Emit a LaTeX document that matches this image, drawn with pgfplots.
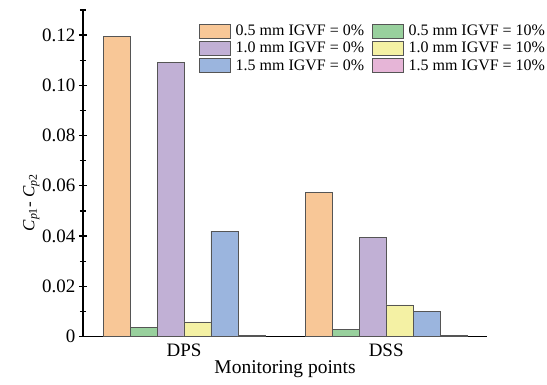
\documentclass[border=0pt]{standalone}
\usepackage{fontspec}
\setmainfont{Liberation Serif}
\usepackage{pgfplots}
\pgfplotsset{compat=1.18}
\definecolor{cOr}{HTML}{F8C797}
\definecolor{cGr}{HTML}{98D09D}
\definecolor{cPu}{HTML}{C1B0D5}
\definecolor{cYe}{HTML}{F4F1A4}
\definecolor{cBl}{HTML}{9BB5DE}
\definecolor{cPi}{HTML}{E6B5D7}
\definecolor{edge}{HTML}{555555}
\begin{document}
\begin{tikzpicture}
\begin{axis}[
  name=ax,
  scale only axis,
  width=405pt, height=327pt,
  xmin=-0.5, xmax=1.5,
  ymin=0, ymax=0.13,
  ybar=0pt, bar width=27pt,
  axis x line=bottom, axis y line=left,
  axis line style={-, line width=1.4pt, black},
  xtick={0,1}, xticklabels={DPS,DSS},
  x tick style={draw=none},
  ytick={0,0.02,0.04,0.06,0.08,0.10,0.12},
  yticklabels={0,0.02,0.04,0.06,0.08,0.10,0.12},
  minor ytick={0.01,0.03,0.05,0.07,0.09,0.11,0.13},
  tick align=center,
  major tick length=8pt, minor tick length=6pt,
  y tick style={line width=1.2pt, black},
  /pgf/number format/assume math mode=true,
  tick label style={font=\fontsize{19}{21}\selectfont},
  yticklabel style={xshift=0pt},
  xlabel={Monitoring points},
  xlabel style={font=\fontsize{19.5}{21}\selectfont, yshift=3pt},
  ylabel={\textit{C}\textsubscript{\textit{p}1}- \textit{C}\textsubscript{\textit{p}2}},
  ylabel style={font=\fontsize{17}{19}\selectfont, at={(rel axis cs:0,0.41)}, yshift=40pt, anchor=south},
  legend columns=2,
  legend cell align=left,
  legend style={at={(rel axis cs:1,1)}, anchor=north east, xshift=60pt, yshift=-11pt,
    draw=none, fill=none, inner xsep=0pt, font=\fontsize{16}{17}\selectfont,
    /tikz/every even column/.append style={column sep=6pt},
    /tikz/every odd column/.append style={column sep=3pt},
    row sep=1pt},
  legend image code/.code={\draw[#1] (0pt,-7pt) rectangle (31pt,7pt);},
  every axis plot/.append style={draw=edge, line width=0.6pt},
]
\addplot[fill=cOr] coordinates {(0,0.1195) (1,0.0575)};
\addplot[fill=cGr] coordinates {(0,0.0035) (1,0.0029)};
\addplot[fill=cPu] coordinates {(0,0.1090) (1,0.0396)};
\addplot[fill=cYe] coordinates {(0,0.0058) (1,0.0126)};
\addplot[fill=cBl] coordinates {(0,0.0420) (1,0.0099)};
\addplot[fill=cPi] coordinates {(0,0.0004) (1,0.0006)};
\legend{0.5 mm IGVF = 0\%, 0.5 mm IGVF = 10\%, 1.0 mm IGVF = 0\%, 1.0 mm IGVF = 10\%, 1.5 mm IGVF = 0\%, 1.5 mm IGVF = 10\%}
\end{axis}
\path (ax.south west) ++(-83pt,-48pt);
\path (ax.north east) ++(59pt,10pt);
\end{tikzpicture}
\end{document}
